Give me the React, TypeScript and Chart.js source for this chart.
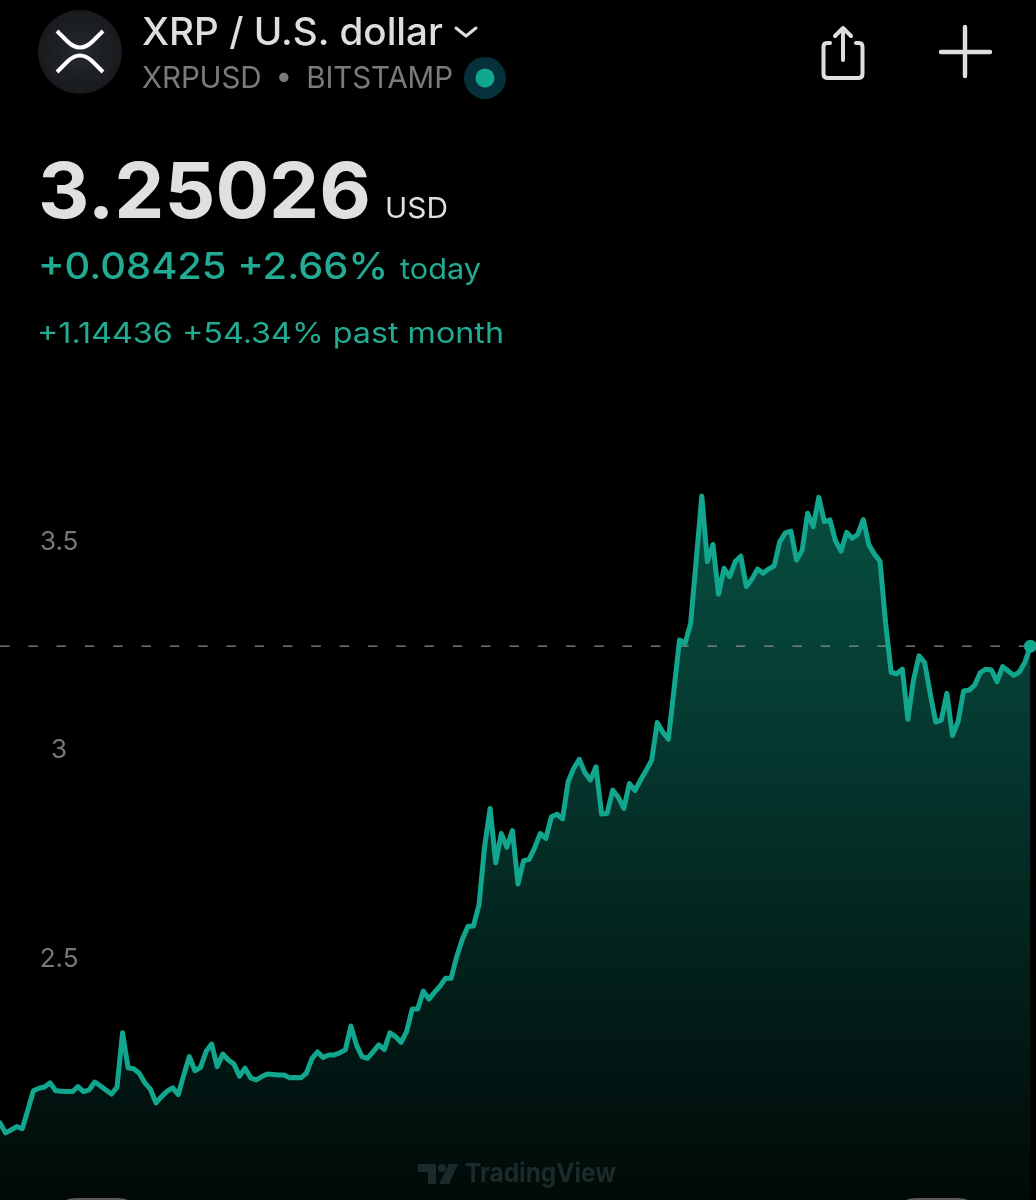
import React, { useEffect, useRef } from "react";
import { Chart, registerables } from "chart.js";

Chart.register(...registerables);

const closes: number[] = [
  2.107, 2.083, 2.09, 2.098, 2.093, 2.138, 2.184, 2.19, 2.193, 2.203,
  2.184, 2.183, 2.182, 2.182, 2.194, 2.182, 2.186, 2.205, 2.196, 2.186,
  2.176, 2.192, 2.323, 2.239, 2.237, 2.226, 2.203, 2.188, 2.155, 2.17,
  2.183, 2.191, 2.175, 2.222, 2.266, 2.232, 2.24, 2.278, 2.296, 2.242,
  2.272, 2.258, 2.248, 2.219, 2.238, 2.215, 2.21, 2.218, 2.224, 2.223,
  2.222, 2.222, 2.215, 2.216, 2.215, 2.226, 2.261, 2.277, 2.264, 2.27,
  2.27, 2.275, 2.282, 2.339, 2.294, 2.266, 2.262, 2.278, 2.294, 2.283,
  2.323, 2.314, 2.3, 2.326, 2.38, 2.38, 2.423, 2.404, 2.42, 2.435,
  2.454, 2.454, 2.506, 2.547, 2.578, 2.579, 2.63, 2.769, 2.861, 2.731,
  2.801, 2.768, 2.808, 2.68, 2.736, 2.739, 2.767, 2.801, 2.789, 2.841,
  2.847, 2.836, 2.925, 2.957, 2.979, 2.947, 2.929, 2.961, 2.848, 2.849,
  2.905, 2.888, 2.861, 2.921, 2.904, 2.929, 2.952, 2.977, 3.067, 3.044,
  3.027, 3.145, 3.265, 3.257, 3.305, 3.457, 3.61, 3.453, 3.494, 3.375,
  3.437, 3.417, 3.453, 3.466, 3.393, 3.411, 3.435, 3.425, 3.435, 3.443,
  3.501, 3.522, 3.526, 3.457, 3.479, 3.569, 3.537, 3.607, 3.549, 3.553,
  3.503, 3.478, 3.523, 3.509, 3.518, 3.554, 3.493, 3.471, 3.454, 3.305,
  3.187, 3.184, 3.195, 3.075, 3.169, 3.227, 3.211, 3.137, 3.068, 3.073,
  3.137, 3.036, 3.069, 3.143, 3.145, 3.157, 3.187, 3.195, 3.193, 3.165,
  3.201, 3.191, 3.18, 3.188, 3.211, 3.25026,
];
const sessions: number[] = closes.map((_, i) => i);
const lastPrice = 3.25026;
const priceLineSessions: number[] = [0, 186];
const tickValues: number[] = [3.5, 3, 2.5];
const tickLabels: string[] = ["3.5", "3", "2.5"];

const title = "XRP / U.S. dollar";
const subtitle = "XRPUSD • BITSTAMP";
const priceText = "3.25026";
const currency = "USD";
const todayChange = "+0.08425 +2.66%";
const todayWord = "today";
const monthChange = "+1.14436 +54.34% past month";
const watermark = "TradingView";

const GREEN = "#12a68e";
const FONT = "Inter, 'Noto Sans', sans-serif";

function App() {
  const ref = useRef<HTMLCanvasElement | null>(null);

  useEffect(() => {
    if (!ref.current) return;
    const points = sessions.map((s, i) => ({ x: s, y: closes[i] }));
    const chart = new Chart(ref.current, {
      type: "line",
      data: {
        datasets: [
          {
            data: points,
            borderWidth: 0,
            pointRadius: 0,
            fill: "start",
            order: 3,
            backgroundColor: (ctx: any) => {
              const c = ctx.chart;
              if (!c.chartArea) return "#053a30";
              const g = c.ctx.createLinearGradient(0, 495, 0, c.chartArea.bottom);
              g.addColorStop(0, "#074e41");
              g.addColorStop(0.35, "#05382f");
              g.addColorStop(0.75, "#021a16");
              g.addColorStop(1, "#010a08");
              return g;
            },
          },
          {
            data: priceLineSessions.map((x) => ({ x, y: lastPrice })),
            borderColor: "#8c8c8c",
            borderWidth: 1.2,
            borderDash: [9.5, 18.8],
            pointRadius: 0,
            fill: false,
            order: 2,
          },
          {
            data: points,
            borderColor: GREEN,
            borderWidth: 5,
            borderJoinStyle: "round",
            borderCapStyle: "round",
            pointBackgroundColor: GREEN,
            pointBorderWidth: 0,
            pointRadius: (ctx: any) => (ctx.dataIndex === closes.length - 1 ? 6.5 : 0),
            fill: false,
            tension: 0,
            order: 1,
            clip: false,
          },
        ],
      },
      options: {
        animation: false,
        responsive: false,
        devicePixelRatio: 1,
        layout: { padding: 0, autoPadding: false },
        events: [],
        plugins: { legend: { display: false }, tooltip: { enabled: false } },
        scales: {
          x: { type: "linear", display: false, min: 0, max: 186 },
          y: {
            type: "linear",
            min: 1.92206,
            max: 4.79976,
            grid: { display: false, drawTicks: false },
            border: { display: false },
            afterBuildTicks: (s: any) => {
              s.ticks = tickValues.map((value) => ({ value }));
            },
            afterFit: (s: any) => {
              s.width = 0;
              s._computeLabelArea = () => undefined;
            },
            ticks: {
              autoSkip: false,
              crossAlign: "center",
              padding: -78.5,
              color: "#787878",
              font: { family: "Inter", size: 26, weight: "400" },
              callback: (v: any) => tickLabels[tickValues.indexOf(v)] ?? "",
            },
          },
        },
      },
    } as any);
    return () => chart.destroy();
  }, []);

  const stretch = "spacingAndGlyphs";

  return (
    <div style={{ position: "absolute", left: 0, top: 0, width: 1036, height: 1200, background: "#000", overflow: "hidden" }}>
      <canvas ref={ref} width={1036} height={1200} style={{ display: "block", width: 1036, height: 1200 }} />
      <svg
        width={1036}
        height={1200}
        viewBox="0 0 1036 1200"
        style={{ position: "absolute", left: 0, top: 0, pointerEvents: "none", fontFamily: FONT }}
      >
        <defs>
          <radialGradient id="logoBg" cx="0.5" cy="0.5" r="0.6">
            <stop offset="0" stopColor="#26292d" />
            <stop offset="1" stopColor="#15171a" />
          </radialGradient>
        </defs>
        <circle cx={80} cy={52} r={42} fill="url(#logoBg)" />
        <path d="M57 31 L67 41 Q80 54 93 41 L103 31" fill="none" stroke="#fff" strokeWidth={4} />
        <path d="M57 72 L67 62 Q80 49 93 62 L103 72" fill="none" stroke="#fff" strokeWidth={4} />

        <text x={142} y={45} fontSize={38} fontWeight={500} fill="#dedede" textLength={301} lengthAdjust={stretch}>{title}</text>
        <path d="M456 28 L466 36 L476 28" fill="none" stroke="#dedede" strokeWidth={3} strokeLinecap="round" strokeLinejoin="round" />
        <text x={142} y={88} fontSize={29.5} fontWeight={400} fill="#7a7a7a" wordSpacing={6} textLength={311}>{subtitle}</text>
        <circle cx={485} cy={78} r={21} fill="#06303a" />
        <circle cx={485} cy={78} r={9.5} fill="#0fa88f" />

        <path d="M830 43 H827 Q823.5 43 823.5 47 V74 Q823.5 78 828 78 H858 Q862.5 78 862.5 74 V47 Q862.5 43 859 43 H856" fill="none" stroke="#dedede" strokeWidth={4} strokeLinecap="round" />
        <path d="M843 60 V28 M835 36 L843 28 L851 36" fill="none" stroke="#dedede" strokeWidth={4} strokeLinecap="round" strokeLinejoin="round" />
        <path d="M965 27 V76 M941 52 H990" fill="none" stroke="#dedede" strokeWidth={4.4} strokeLinecap="round" />

        <text x={38} y={218} fontSize={77} fontWeight={700} fill="#e0e0e0" textLength={333} lengthAdjust={stretch}>{priceText}</text>
        <text x={385} y={218} fontSize={29} fontWeight={400} fill="#dedede" textLength={63} lengthAdjust={stretch}>{currency}</text>
        <text x={38} y={279} fontSize={37} fontWeight={500} fill="#22ab92" textLength={350} lengthAdjust={stretch}>{todayChange}</text>
        <text x={400} y={279} fontSize={29} fontWeight={400} fill="#22ab92" textLength={81} lengthAdjust={stretch}>{todayWord}</text>
        <text x={37} y={343} fontSize={29} fontWeight={400} fill="#22ab92" textLength={467} lengthAdjust={stretch}>{monthChange}</text>

        <path d="M418 1164 H436 V1184 H428 V1172 H418 Z M449 1164 H458 L449 1184 H439 Z" fill="#1b2b29" />
        <circle cx={442} cy={1168} r={4} fill="#1b2b29" />
        <text x={465} y={1182} fontSize={26} fontWeight={700} fill="#1b2b29" textLength={151} lengthAdjust={stretch}>{watermark}</text>

        <path d="M66 1200 Q70 1198 76 1198 H118 Q124 1198 128 1200 Z" fill="#5a5a5a" />
        <path d="M906 1200 Q910 1198 916 1198 H958 Q964 1198 968 1200 Z" fill="#5a5a5a" />
      </svg>
    </div>
  );
}

export default App;
